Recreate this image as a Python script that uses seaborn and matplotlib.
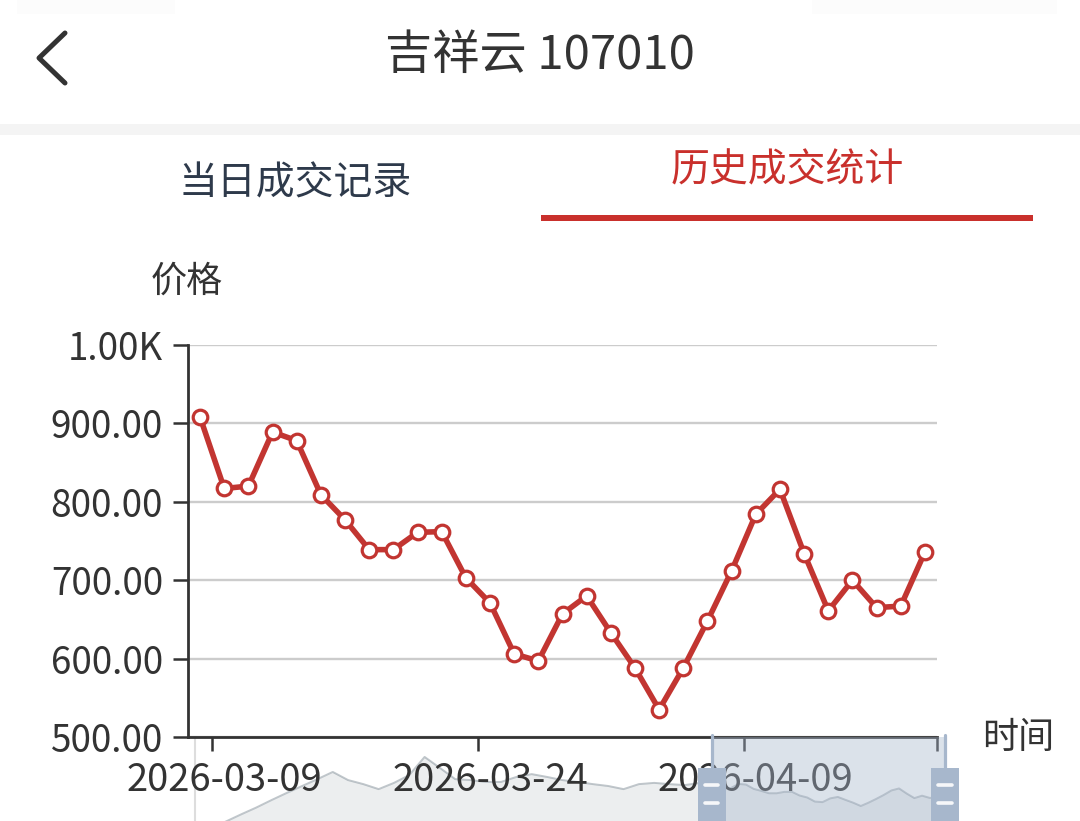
import numpy as np
import pandas as pd
import matplotlib
matplotlib.use("Agg")
import matplotlib.pyplot as plt
import matplotlib.transforms as mtransforms
from matplotlib.patches import Rectangle
from matplotlib.lines import Line2D
import seaborn as sns

# ---------------- data ----------------
title = "吉祥云 107010"
tab_left = "当日成交记录"
tab_right = "历史成交统计"
y_name = "价格"
x_name = "时间"

dates = ["2026-03-06", "2026-03-09", "2026-03-10", "2026-03-11", "2026-03-12", "2026-03-13",
         "2026-03-16", "2026-03-17", "2026-03-18", "2026-03-19", "2026-03-20",
         "2026-03-23", "2026-03-24", "2026-03-25", "2026-03-26", "2026-03-27",
         "2026-03-30", "2026-03-31", "2026-04-01", "2026-04-02", "2026-04-03",
         "2026-04-07", "2026-04-08", "2026-04-09", "2026-04-10",
         "2026-04-13", "2026-04-14", "2026-04-15", "2026-04-16", "2026-04-17", "2026-04-20"]
prices = [908, 817, 820, 889, 878, 809, 777, 739, 739, 761, 762, 703, 671, 606, 597, 657,
          680, 633, 588, 535, 588, 648, 712, 784, 816, 734, 661, 700, 665, 667, 736]
label_dates = ["2026-03-09", "2026-03-24", "2026-04-09"]
y_ticks = [500, 600, 700, 800, 900, 1000]
y_tick_labels = ["500.00", "600.00", "700.00", "800.00", "900.00", "1.00K"]

# earlier history shown in the zoom-slider overview (sampled every second day)
history = [60, 170, 285, 400, 510, 630, 745, 855, 965, 1080, 950, 885, 805, 905, 1030,
           1320, 1145, 965, 950, 920, 920, 1000, 1045, 1000, 950, 920, 885, 855, 805, 885,
           905, 885, 870, 905]

# ---------------- style ----------------
RED = "#c23531"
DARK = "#333333"
sns.set_theme(style="white")
plt.rcParams["font.family"] = ["Noto Sans CJK SC", "DejaVu Sans"]

W, H = 1080, 821
fig = plt.figure(figsize=(W / 100, H / 100), dpi=100)
fig.patch.set_facecolor("white")


def fx(px):
    return px / W


def fy(py):
    return 1 - py / H


# ---------------- header ----------------
for (x0, x1) in [(17, 175), (812, 1057)]:
    fig.add_artist(Rectangle((fx(x0), fy(14)), fx(x1) - fx(x0), fy(0) - fy(14),
                             transform=fig.transFigure, color="#fcfcfc", lw=0))
fig.add_artist(Line2D([fx(65), fx(39), fx(65)], [fy(33), fy(58), fy(83)],
                      transform=fig.transFigure, color=DARK, lw=3.6,
                      solid_capstyle="round", solid_joinstyle="round"))
fig.text(0.5, fy(56), title, ha="center", va="center", fontsize=34, color=DARK)
fig.add_artist(Rectangle((0, fy(135)), 1, fy(124) - fy(135), transform=fig.transFigure,
                         color="#f4f4f4", lw=0))
fig.text(fx(295), fy(183), tab_left, ha="center", va="center", fontsize=28, color="#2e3a4b")
fig.text(fx(787), fy(170), tab_right, ha="center", va="center", fontsize=28, color="#c9302c")
fig.add_artist(Rectangle((fx(541), fy(221)), fx(1033) - fx(541), fy(215) - fy(221),
                         transform=fig.transFigure, color="#c9302c", lw=0))

# ---------------- axes ----------------
ax_ov = fig.add_axes([fx(195), 0, fx(945) - fx(195), fy(737)], zorder=0)
ax = fig.add_axes([fx(188), fy(737), fx(937) - fx(188), fy(345) - fy(737)], zorder=1)
ax_ctl = fig.add_axes([fx(195), 0, fx(945) - fx(195), fy(737)], zorder=2)
for a in (ax, ax_ov, ax_ctl):
    a.patch.set_alpha(0)

# overview (data zoom) series
n_hist = len(history)
hist_x = np.arange(n_hist) * 2
main_x = hist_x[-1] + 2 + np.arange(len(prices))
ov = pd.DataFrame({"x": np.concatenate([hist_x, main_x]),
                   "v": np.concatenate([history, prices])})
ax_ov.fill_between(ov["x"], ov["v"], 0, color="#2f4554", alpha=0.09, lw=0)
sns.lineplot(data=ov, x="x", y="v", ax=ax_ov, color="#2f4554", alpha=0.3, linewidth=1.4)
ax_ov.set_xlim(0, main_x[-1])
ax_ov.set_ylim(295, 1639)
ax_ov.set_xticks([])
ax_ov.set_yticks([])
ax_ov.set_xlabel("")
ax_ov.set_ylabel("")
for s in ax_ov.spines.values():
    s.set_visible(False)
ax_ov.spines["left"].set_visible(True)
ax_ov.spines["left"].set_color("#dddddd")
ax_ov.spines["left"].set_linewidth(1.5)

# main line chart
df = pd.DataFrame({"idx": np.arange(len(prices)), "date": dates, "price": prices})
sns.lineplot(data=df, x="idx", y="price", ax=ax, color=RED, linewidth=4.0,
             marker="o", markersize=10.5, markerfacecolor="white",
             markeredgecolor=RED, markeredgewidth=2.3, clip_on=False)
ax.set_xlim(-0.5, len(prices) - 0.5)
ax.set_ylim(y_ticks[0], y_ticks[-1])
ax.set_yticks(y_ticks)
ax.set_yticklabels(y_tick_labels)
ax.yaxis.grid(True, color="#cccccc", lw=1.7)
ax.xaxis.grid(False)
ax.set_axisbelow(True)
for s in ("top", "right"):
    ax.spines[s].set_visible(False)
for s in ("left", "bottom"):
    ax.spines[s].set_color(DARK)
    ax.spines[s].set_linewidth(2.0)
ax.tick_params(axis="y", direction="out", length=11, width=1.8, color=DARK,
               pad=7, labelsize=26.5, labelcolor=DARK, left=True)
label_pos = [dates.index(d) for d in label_dates]
ax.set_xticks([p - 0.5 for p in label_pos] + [len(prices) - 0.5])
ax.set_xticklabels([])
ax.tick_params(axis="x", which="major", direction="out", length=10, width=1.8,
               color=DARK, bottom=True)
ax.set_xticks(label_pos, minor=True)
ax.set_xticklabels(label_dates, minor=True)
ax.tick_params(axis="x", which="minor", length=0, pad=17, labelsize=27.5, labelcolor=DARK)
ax.set_xlabel("")
ax.set_ylabel("")
ax.text(fx(187), fy(282), y_name, transform=fig.transFigure, ha="center",
        va="center", fontsize=26, color=DARK)
ax.text(fx(1018), fy(738), x_name, transform=fig.transFigure, ha="center",
        va="center", fontsize=26, color=DARK)

# zoom-slider window and handles (on top)
ax_ctl.set_xlim(ax_ov.get_xlim())
ax_ctl.set_ylim(0, 1)
ax_ctl.axis("off")
win_lo, win_hi = main_x[0] - 0.5, main_x[-1]
ax_ctl.axvspan(win_lo, win_hi, color=(167 / 255, 183 / 255, 204 / 255), alpha=0.4, lw=0)
blend = mtransforms.blended_transform_factory(ax_ctl.transData, ax_ctl.transAxes)
hw = 1.83
for hx in (win_lo, win_hi):
    ax_ctl.add_line(Line2D([hx, hx], [0.62, 1.02], transform=blend, color="#a7b7cc",
                           lw=2.3, clip_on=False))
    ax_ctl.add_patch(Rectangle((hx - hw, -0.1), 2 * hw, 0.73, transform=blend,
                               facecolor="#a7b7cc", edgecolor="none", clip_on=False))
    for yy in (0.43, 0.215):
        ax_ctl.add_line(Line2D([hx - 0.85, hx + 0.85], [yy, yy], transform=blend,
                               color="white", lw=2.6, alpha=0.9, clip_on=False,
                               solid_capstyle="round"))

fig.savefig("out.png", dpi=100, facecolor="white")
